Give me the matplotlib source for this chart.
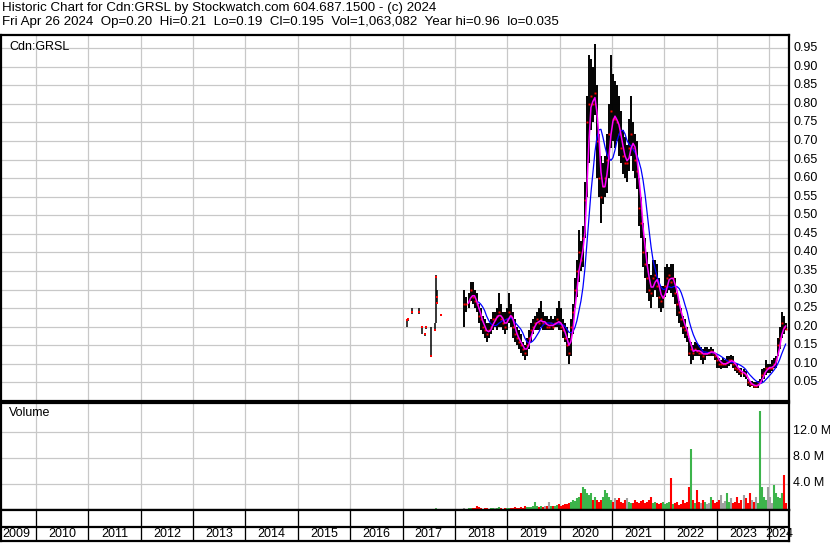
import numpy as np
import pandas as pd
import matplotlib
matplotlib.use("Agg")
import matplotlib.pyplot as plt
from matplotlib.transforms import blended_transform_factory

# ---------------- data ----------------
header1 = "Historic Chart for Cdn:GRSL by Stockwatch.com 604.687.1500 - (c) 2024"
header2 = "Fri Apr 26 2024  Op=0.20  Hi=0.21  Lo=0.19  Cl=0.195  Vol=1,063,082  Year hi=0.96  lo=0.035"
symbol = "Cdn:GRSL"
years = list(range(2009, 2025))
price_ticks = [0.05, 0.10, 0.15, 0.20, 0.25, 0.30, 0.35, 0.40, 0.45, 0.50,
               0.55, 0.60, 0.65, 0.70, 0.75, 0.80, 0.85, 0.90, 0.95]
vol_ticks = [4.0, 8.0, 12.0]

# sparse 2017 trading (decimal year)
early_t = [2017.086, 2017.10, 2017.18, 2017.31, 2017.37, 2017.43, 2017.45,
           2017.54, 2017.62, 2017.635, 2017.65, 2017.66, 2017.73]
early_high = [0.222, 0.222, 0.25, 0.25, 0.20, 0.18, 0.20, 0.20, 0.21, 0.34, 0.30, 0.27, 0.235]
early_low = [0.198, 0.215, 0.235, 0.235, 0.18, 0.175, 0.195, 0.12, 0.19, 0.21, 0.27, 0.26, 0.228]
early_close = [0.218, 0.22, 0.24, 0.24, 0.198, 0.18, 0.199, 0.12, 0.19, 0.333, 0.28, 0.263, 0.231]
early_vol = [0.08, 0.05, 0.10, 0.06, 0.12, 0.05, 0.08, 0.15, 0.06, 0.20, 0.10, 0.08, 0.06]

# bi-weekly bars, Mar 2018 -> Apr 26 2024
end_date = "2024-04-26"
high = [0.30,0.28,0.29,0.32,0.32,0.30,0.29,0.26,0.25,0.23,
        0.22,0.21,0.21,0.22,0.24,0.24,0.25,0.29,0.26,0.24,
        0.24,0.25,0.29,0.26,0.24,0.22,0.20,0.19,0.18,0.16,
        0.15,0.17,0.19,0.21,0.22,0.23,0.24,0.25,0.27,0.24,
        0.23,0.23,0.22,0.23,0.22,0.23,0.25,0.27,0.25,0.22,
        0.21,0.20,0.17,0.22,0.26,0.33,0.38,0.46,0.43,0.47,
        0.59,0.82,0.93,0.92,0.90,0.96,0.85,0.72,0.66,0.64,
        0.66,0.72,0.80,0.93,0.88,0.86,0.85,0.82,0.78,0.73,
        0.71,0.69,0.76,0.82,0.75,0.72,0.70,0.60,0.55,0.48,
        0.44,0.40,0.37,0.34,0.38,0.38,0.37,0.33,0.31,0.31,
        0.36,0.37,0.36,0.37,0.37,0.33,0.29,0.27,0.25,0.23,
        0.22,0.20,0.17,0.16,0.15,0.16,0.155,0.15,0.145,0.14,
        0.145,0.145,0.14,0.145,0.14,0.13,0.12,0.115,0.11,0.115,
        0.11,0.12,0.12,0.125,0.12,0.10,0.10,0.09,0.09,0.085,
        0.08,0.06,0.055,0.055,0.05,0.05,0.055,0.06,0.085,0.09,
        0.11,0.10,0.10,0.11,0.115,0.12,0.17,0.20,0.24,0.23,
        0.21]
low = [0.20,0.24,0.25,0.27,0.26,0.25,0.24,0.21,0.19,0.18,
       0.17,0.16,0.17,0.18,0.19,0.20,0.19,0.20,0.20,0.19,
       0.18,0.19,0.21,0.20,0.17,0.16,0.15,0.14,0.13,0.12,
       0.11,0.12,0.14,0.16,0.18,0.19,0.19,0.19,0.20,0.19,
       0.19,0.19,0.19,0.19,0.19,0.20,0.20,0.19,0.19,0.17,
       0.16,0.12,0.10,0.12,0.18,0.25,0.28,0.32,0.35,0.36,
       0.44,0.55,0.64,0.73,0.75,0.77,0.60,0.55,0.48,0.53,
       0.55,0.56,0.60,0.68,0.70,0.68,0.70,0.66,0.64,0.61,
       0.60,0.59,0.62,0.66,0.62,0.60,0.57,0.47,0.44,0.36,
       0.33,0.29,0.27,0.25,0.28,0.30,0.28,0.25,0.24,0.25,
       0.28,0.29,0.30,0.29,0.28,0.26,0.23,0.21,0.20,0.18,
       0.17,0.16,0.12,0.10,0.11,0.12,0.12,0.12,0.11,0.10,
       0.11,0.12,0.12,0.12,0.12,0.11,0.09,0.09,0.085,0.09,
       0.09,0.09,0.095,0.10,0.09,0.08,0.075,0.07,0.065,0.065,
       0.06,0.04,0.037,0.04,0.035,0.035,0.035,0.045,0.05,0.06,
       0.07,0.075,0.075,0.08,0.09,0.09,0.12,0.14,0.17,0.18,
       0.19]
close = [0.26,0.26,0.27,0.30,0.28,0.27,0.26,0.23,0.22,0.20,
         0.19,0.18,0.19,0.20,0.22,0.22,0.23,0.24,0.22,0.21,
         0.20,0.22,0.24,0.23,0.20,0.18,0.17,0.16,0.15,0.14,
         0.13,0.15,0.17,0.19,0.20,0.21,0.22,0.21,0.22,0.21,
         0.21,0.20,0.20,0.21,0.20,0.21,0.22,0.21,0.20,0.19,
         0.17,0.15,0.13,0.20,0.24,0.30,0.35,0.40,0.38,0.44,
         0.54,0.75,0.80,0.82,0.80,0.83,0.70,0.60,0.55,0.58,
         0.60,0.65,0.72,0.78,0.76,0.76,0.75,0.72,0.68,0.66,
         0.64,0.64,0.68,0.72,0.68,0.65,0.62,0.52,0.48,0.40,
         0.37,0.33,0.30,0.29,0.33,0.34,0.31,0.28,0.27,0.28,
         0.31,0.33,0.34,0.32,0.33,0.29,0.26,0.24,0.22,0.20,
         0.19,0.18,0.13,0.14,0.13,0.14,0.135,0.13,0.13,0.12,
         0.13,0.13,0.13,0.135,0.13,0.12,0.11,0.10,0.10,0.10,
         0.10,0.105,0.11,0.11,0.10,0.09,0.085,0.08,0.075,0.075,
         0.07,0.05,0.045,0.045,0.04,0.04,0.045,0.05,0.07,0.075,
         0.09,0.09,0.09,0.09,0.10,0.11,0.15,0.17,0.21,0.20,
         0.195]
volume_m = [0.2,0.15,0.25,0.3,0.2,0.25,0.5,0.45,0.2,0.15,
            0.2,0.3,0.15,0.2,0.25,0.2,0.3,0.35,0.2,0.15,
            0.2,0.3,0.25,0.2,0.3,0.35,0.3,0.25,0.4,0.3,
            0.5,0.4,0.35,0.4,0.5,1.2,0.6,0.4,0.5,0.45,
            0.5,0.6,1.1,0.5,0.6,0.5,0.7,0.8,0.6,0.7,
            0.9,0.8,1.0,1.2,1.5,1.3,1.8,2.0,2.5,3.4,
            3.2,2.5,2.3,2.5,1.5,2.0,1.5,1.2,1.5,2.0,
            3.0,2.5,2.0,1.5,1.2,1.8,1.5,1.8,1.2,1.0,
            1.5,1.8,1.2,1.0,1.0,1.5,1.2,1.0,1.3,1.5,
            1.0,1.2,1.5,2.0,1.0,1.2,1.0,0.8,1.0,1.2,
            0.8,1.0,1.2,4.8,0.8,1.0,1.2,0.7,0.8,1.5,
            1.0,1.2,3.4,9.3,1.5,1.0,3.0,1.2,1.0,1.5,
            1.2,0.8,1.0,2.0,1.5,1.0,1.2,1.5,2.2,1.0,
            1.3,2.5,1.2,1.8,1.0,1.2,2.0,1.0,1.5,2.2,
            1.8,1.0,2.5,1.5,1.2,2.0,1.0,15.2,3.5,2.0,
            1.5,3.4,2.0,1.0,3.7,2.5,2.0,1.8,2.5,5.3,
            1.06]

# ---------------- layout helpers ----------------
W, H = 830, 543
fig = plt.figure(figsize=(W / 100, H / 100), dpi=100)
fig.patch.set_facecolor("white")
FONT = "Liberation Sans"


def rect(x0, y0, x1, y1):
    return [x0 / W, 1 - y1 / H, (x1 - x0) / W, (y1 - y0) / H]


PX_PER_YEAR = 52.36
X_LEFT_PX, X_RIGHT_PX = 1, 789
XMIN = 2010 + (X_LEFT_PX - 36) / PX_PER_YEAR
XMAX = 2010 + (X_RIGHT_PX - 36) / PX_PER_YEAR

ax_p = fig.add_axes(rect(X_LEFT_PX, 35, X_RIGHT_PX, 401))
ax_v = fig.add_axes(rect(X_LEFT_PX, 403, X_RIGHT_PX, 509.5))
ax_y = fig.add_axes(rect(X_LEFT_PX, 509.5, X_RIGHT_PX, 541))

GRID = "#c8c8c8"
for ax in (ax_p, ax_v, ax_y):
    ax.set_xlim(XMIN, XMAX)
    ax.set_xticks([])
    ax.set_yticks([])
    for s in ax.spines.values():
        s.set_linewidth(1.6)
        s.set_color("black")
        s.set_zorder(10)
    for yr in years[1:]:
        ax.axvline(yr, color=GRID, lw=0.9, zorder=0)

# price panel
ax_p.set_ylim(0, (400.6 - 35) / 18.556 * 0.05)
for tk in price_ticks:
    ax_p.axhline(tk, color=GRID, lw=0.9, zorder=0)

dates = pd.date_range(end=end_date, periods=len(close), freq="14D")
t = np.array([d.year + (d.dayofyear - 1) / (366 if d.is_leap_year else 365) for d in dates])
close_s = pd.Series(close)
ma_short = close_s.rolling(3).mean()
ma_long = close_s.rolling(8).mean()

ax_p.vlines(early_t, early_low, early_high, color="black", lw=1.1, zorder=2)
ax_p.vlines(t, low, high, color="black", lw=1.4, zorder=2)
ax_p.plot(early_t, early_close, "s", color="red", ms=1.6, mew=0, zorder=3)
ax_p.plot(t, close, "s", color="red", ms=1.4, mew=0, zorder=3)
ax_p.plot(t, ma_long, color="#0000ff", lw=0.9, zorder=4)
ax_p.plot(t, ma_short, color="#ff00ff", lw=1.1, zorder=5)

ax_p.text(8 / (X_RIGHT_PX - X_LEFT_PX), 1 - 6 / 366, symbol, transform=ax_p.transAxes,
          ha="left", va="top", fontsize=9, family=FONT)

tr_p = blended_transform_factory(fig.transFigure, ax_p.transData)
for tk in price_ticks:
    fig.text(793 / W, tk, f"{tk:.2f}", transform=tr_p, ha="left", va="center",
             fontsize=9, family=FONT)

# volume panel
ax_v.set_ylim(0, (509.5 - 403) / 26 * 4.0)
for tk in vol_ticks:
    ax_v.axhline(tk, color=GRID, lw=0.9, zorder=0)
UP, DOWN, FLAT = "#3cb44b", "#ff0000", "#a0a0a0"
prev = [close[0]] + close[:-1]
vcol = [UP if c > p + 1e-9 else (DOWN if c < p - 1e-9 else FLAT) for c, p in zip(close, prev)]
ax_v.vlines(t, 0, volume_m, colors=vcol, lw=1.5, capstyle="butt", zorder=2)
eprev = [early_close[0]] + early_close[:-1]
ecol = [UP if c > p + 1e-9 else (DOWN if c < p - 1e-9 else FLAT) for c, p in zip(early_close, eprev)]
ax_v.vlines(early_t, 0, early_vol, colors=ecol, lw=1.2, capstyle="butt", zorder=2)
ax_v.text(8 / (X_RIGHT_PX - X_LEFT_PX), 1 - 4 / 106.5, "Volume", transform=ax_v.transAxes,
          ha="left", va="top", fontsize=9, family=FONT)
tr_v = blended_transform_factory(fig.transFigure, ax_v.transData)
for tk in vol_ticks:
    fig.text(793 / W, tk, f"{tk:.1f} M", transform=tr_v, ha="left", va="center",
             fontsize=9, family=FONT)

# year axis box
ax_y.set_ylim(0, 1)
ax_y.axhline((541 - 527) / (541 - 509.5), color="black", lw=1.6)
for yr in years[1:]:
    ax_y.axvline(yr, color="black", lw=0.9, zorder=1)
for yr in years:
    lo_ = max(yr, XMIN)
    hi_ = min(yr + 1, XMAX)
    xc = (lo_ + hi_) / 2
    if yr == years[0]:
        xc = XMIN + 15 / PX_PER_YEAR
    ax_y.text(xc, 0.22, str(yr), ha="center", va="center", fontsize=9, family=FONT,
              zorder=3)

# header
fig.text(2 / W, 1 - 8 / H, header1, ha="left", va="center", fontsize=9.6, family=FONT)
fig.text(2 / W, 1 - 22 / H, header2, ha="left", va="center", fontsize=9.6, family=FONT)

fig.savefig("out.png", dpi=100, facecolor="white")
